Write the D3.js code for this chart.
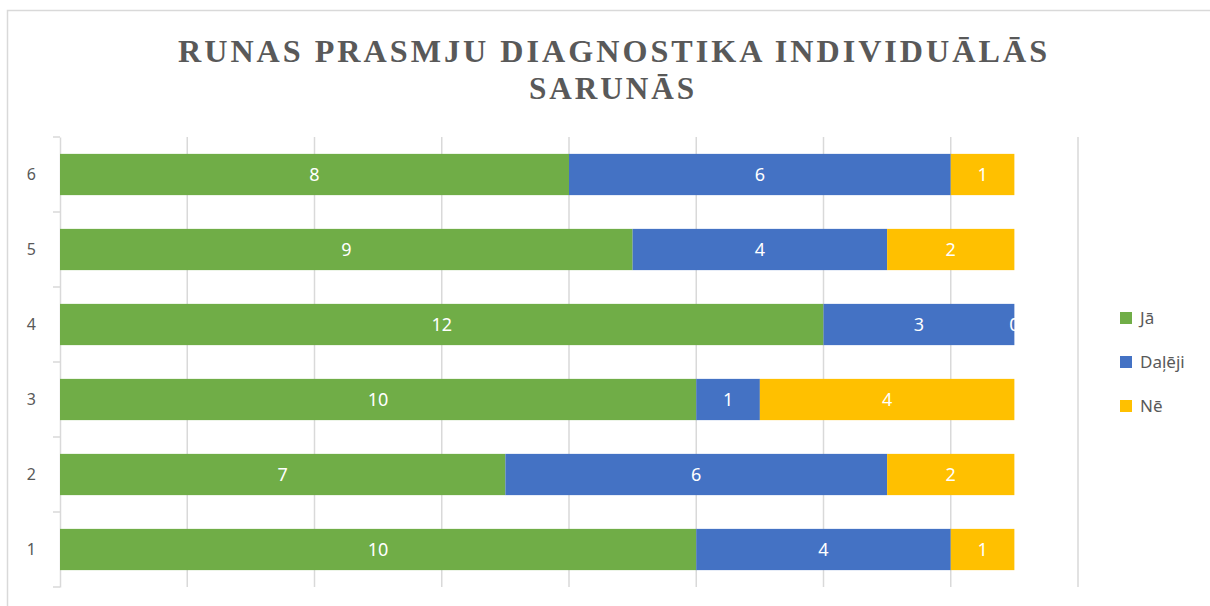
<!DOCTYPE html>
<html>
<head>
<meta charset="utf-8">
<script src="https://cdn.jsdelivr.net/npm/d3@7"></script>
<style>
  body { margin: 0; background: #fff; }
  svg { display: block; }
</style>
</head>
<body>
<div id="chart"></div>
<script>
// categories (bottom to top) and series values
const categories = ["1", "2", "3", "4", "5", "6"];
const seriesNames = ["Jā", "Daļēji", "Nē"];
const ja = [10, 7, 10, 12, 9, 8];
const daleji = [4, 6, 1, 3, 4, 6];
const ne = [1, 2, 4, 0, 2, 1];
const xTicks = [0, 2, 4, 6, 8, 10, 12, 14, 16];
const titleLines = ["RUNAS PRASMJU DIAGNOSTIKA INDIVIDUĀLĀS", "SARUNĀS"];

const colors = ["#70AD47", "#4472C4", "#FFC000"];

const width = 1210, height = 606;

const svg = d3.select("#chart")
  .append("svg")
  .attr("width", width)
  .attr("height", height);

// chart border (cropped at right and bottom)
svg.append("rect")
  .attr("x", 7.5).attr("y", 10.5)
  .attr("width", 1300).attr("height", 700)
  .attr("fill", "none")
  .attr("stroke", "#d9d9d9")
  .attr("stroke-width", 1.5);

// title
const titleFont = "'Liberation Serif', 'Times New Roman', serif";
svg.append("text")
  .attr("x", 614).attr("y", 62)
  .attr("text-anchor", "middle")
  .attr("textLength", 872)
  .attr("lengthAdjust", "spacingAndGlyphs")
  .style("font-family", titleFont)
  .style("font-weight", "bold")
  .style("font-size", "32px")
  .style("letter-spacing", "3px")
  .style("fill", "#595959")
  .text(titleLines[0]);
svg.append("text")
  .attr("x", 613).attr("y", 99)
  .attr("text-anchor", "middle")
  .attr("textLength", 168)
  .attr("lengthAdjust", "spacingAndGlyphs")
  .style("font-family", titleFont)
  .style("font-weight", "bold")
  .style("font-size", "32px")
  .style("letter-spacing", "3px")
  .style("fill", "#595959")
  .text(titleLines[1]);

// scales
const x = d3.scaleLinear().domain([0, 16]).range([60, 1078]);
const y = d3.scaleBand()
  .domain(categories.slice().reverse())
  .range([137, 587])
  .paddingInner(0.45)
  .paddingOuter(0.225);

// gridlines
svg.append("g")
  .selectAll("line")
  .data(xTicks.slice(1))
  .join("line")
  .attr("x1", d => x(d)).attr("x2", d => x(d))
  .attr("y1", 137).attr("y2", 587)
  .attr("stroke", "#d9d9d9")
  .attr("stroke-width", 1.5);

// Y axis
const yAxis = svg.append("g")
  .attr("transform", `translate(${x(0)},0)`)
  .call(d3.axisLeft(y).tickSize(0).tickPadding(24));
yAxis.select(".domain").attr("stroke", "#d9d9d9").attr("stroke-width", 1.5);
yAxis.selectAll("text")
  .style("font-family", "'Noto Sans', sans-serif")
  .style("font-size", "16px")
  .style("fill", "#595959");
// category separator ticks
const bounds = d3.range(categories.length + 1).map(i => 137 + i * y.step());
svg.append("g")
  .selectAll("line")
  .data(bounds)
  .join("line")
  .attr("x1", x(0) - 7).attr("x2", x(0))
  .attr("y1", d => d).attr("y2", d => d)
  .attr("stroke", "#d9d9d9")
  .attr("stroke-width", 1.5);

// stacked data
const table = categories.map((c, i) => ({ cat: c, "Jā": ja[i], "Daļēji": daleji[i], "Nē": ne[i] }));
const stacked = d3.stack().keys(seriesNames)(table);

const layers = svg.append("g")
  .selectAll("g")
  .data(stacked)
  .join("g")
  .attr("fill", (d, i) => colors[i]);

layers.selectAll("rect")
  .data(d => d)
  .join("rect")
  .attr("x", d => x(d[0]))
  .attr("y", d => y(d.data.cat))
  .attr("width", d => x(d[1]) - x(d[0]))
  .attr("height", y.bandwidth());

// value labels
layers.selectAll("text")
  .data(d => d)
  .join("text")
  .attr("x", d => (x(d[0]) + x(d[1])) / 2)
  .attr("y", d => y(d.data.cat) + y.bandwidth() / 2)
  .attr("dy", "0.36em")
  .attr("text-anchor", "middle")
  .style("font-family", "'Noto Sans', sans-serif")
  .style("font-size", "18px")
  .style("fill", "#ffffff")
  .text(d => d[1] - d[0]);

// legend
const legend = svg.append("g")
  .selectAll("g")
  .data(seriesNames)
  .join("g")
  .attr("transform", (d, i) => `translate(1120, ${318 + i * 44})`);
legend.append("rect")
  .attr("x", 0).attr("y", -6)
  .attr("width", 12).attr("height", 12)
  .attr("fill", (d, i) => colors[i]);
legend.append("text")
  .attr("x", 20).attr("y", 0)
  .attr("dy", "0.36em")
  .style("font-family", "'Noto Sans', sans-serif")
  .style("font-size", "17px")
  .style("fill", "#595959")
  .text(d => d);
</script>
</body>
</html>
